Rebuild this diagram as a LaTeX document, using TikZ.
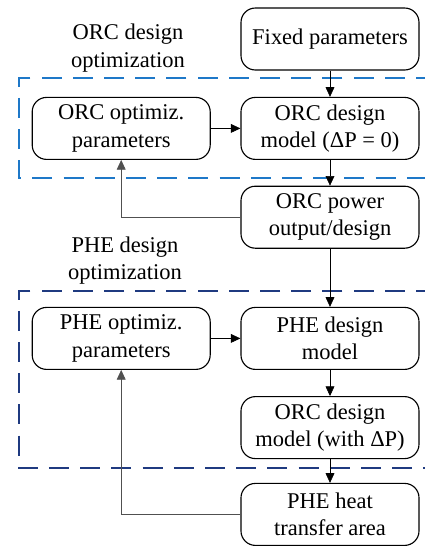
\documentclass[tikz,border=0pt]{standalone}
\usepackage{fontspec}
\setmainfont{Liberation Serif}
\usetikzlibrary{arrows.meta,positioning}
\definecolor{orcblue}{HTML}{1E78C8}
\definecolor{phenavy}{HTML}{1F3A80}
\definecolor{fbgray}{HTML}{505050}

\begin{document}
\begin{tikzpicture}[
    font=\fontsize{16}{19.5}\selectfont,
    block/.style={draw,thick,rounded corners=0.36cm,align=center,
      minimum width=4.45cm,minimum height=1.55cm,inner sep=0pt},
    flow/.style={-{Triangle[length=0.24cm,width=0.22cm]},thin},
    feedback/.style={flow,fbgray},
    groupbox/.style={line width=1.1pt,dash pattern=on 0.5cm off 0.28cm}
  ]
  \useasboundingbox (0,0) rectangle (10.625,-13.65);
  % dashed optimization loops
  \draw[groupbox,orcblue] (10.9,-1.95) -- (0.475,-1.95) -- (0.475,-4.45) -- (10.9,-4.45);
  \draw[groupbox,phenavy] (10.9,-7.275) -- (0.475,-7.275) -- (0.475,-11.7) -- (10.9,-11.7);
  \node[align=center] (orclabel) at (3.2,-1.2) {ORC design\\optimization};
  \node[align=center] (phelabel) at (3.125,-6.52) {PHE design\\optimization};
  % blocks
  \node[block] (fixed) at (8.25,-0.975) {Fixed parameters};
  \node[block] (orcmodel) at (8.25,-3.21) {ORC design\\model (ΔP = 0)};
  \node[block] (orcopt) at (3.03,-3.21) {ORC optimiz.\\parameters};
  \node[block] (orcpower) at (8.25,-5.43) {ORC power\\output/design};
  \node[block] (phemodel) at (8.25,-8.46) {PHE design\\model};
  \node[block] (pheopt) at (3.03,-8.46) {PHE optimiz.\\parameters};
  \node[block] (orcdp) at (8.25,-10.69) {ORC design\\model (with ΔP)};
  \node[block] (phearea) at (8.25,-12.86) {PHE heat\\transfer area};
  % connectors
  \draw[flow] (fixed) -- (orcmodel);
  \draw[flow] (orcopt) -- (orcmodel);
  \draw[flow] (orcmodel) -- (orcpower);
  \draw[feedback] (orcpower.west) -| (orcopt.south);
  \draw[flow] (orcpower) -- (phemodel);
  \draw[flow] (pheopt) -- (phemodel);
  \draw[flow] (phemodel) -- (orcdp);
  \draw[flow] (orcdp) -- (phearea);
  \draw[feedback] (phearea.west) -| (pheopt.south);
\end{tikzpicture}
\end{document}
